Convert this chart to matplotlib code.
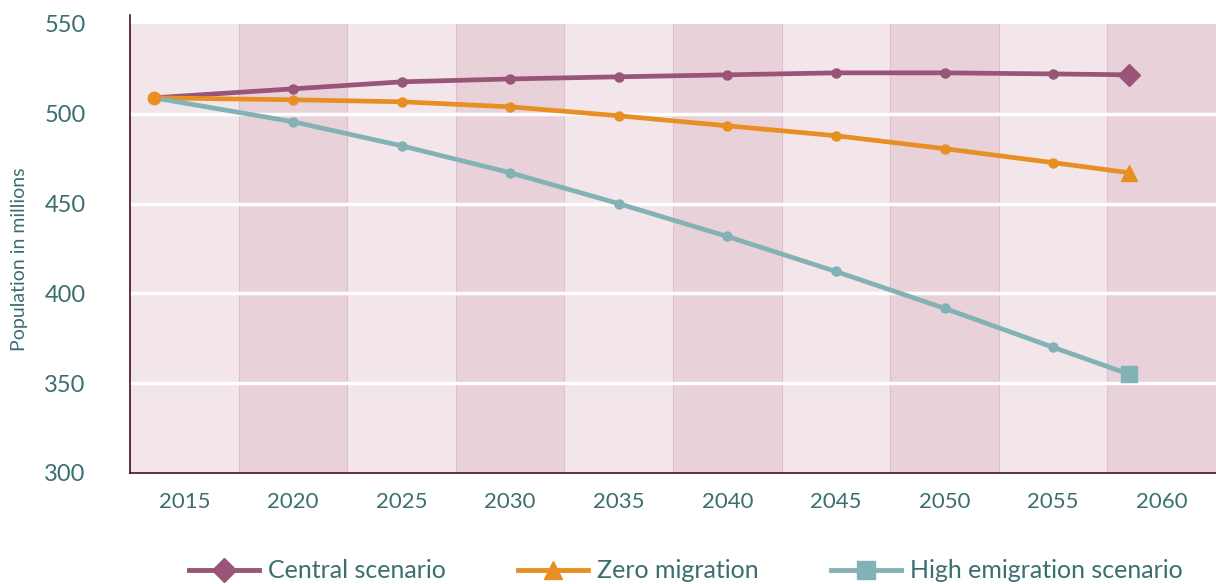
import matplotlib
matplotlib.use("Agg")
import matplotlib.pyplot as plt
from matplotlib.lines import Line2D

# Data
years = [2013.6, 2020, 2025, 2030, 2035, 2040, 2045, 2050, 2055, 2058.5]
central = [508.9, 513.9, 517.8, 519.4, 520.6, 521.7, 522.8, 522.8, 522.2, 521.7]
zero_migration = [508.9, 507.8, 506.7, 503.9, 498.9, 493.3, 487.8, 480.6, 472.8, 467.2]
high_emigration = [508.9, 495.6, 482.2, 467.2, 450.0, 431.7, 412.2, 391.7, 370.0, 355.0]
tick_years = [2015, 2020, 2025, 2030, 2035, 2040, 2045, 2050, 2055, 2060]
y_ticks = [300, 350, 400, 450, 500, 550]
series_names = ["Central scenario", "Zero migration", "High emigration scenario"]

c_central = "#985577"
c_zero = "#e88f24"
c_high = "#82b2b6"
txt = "#3b6e70"
band_light = "#f3e6eb"
band_dark = "#e9d1da"

plt.rcParams['font.family'] = ['Lato', 'DejaVu Sans']

fig = plt.figure(figsize=(12.16, 5.84), dpi=100)
ax = fig.add_axes([130/1216, (584-473)/584, 1 - 130/1216, (473-24)/584])

# alternating bands
for i, ty in enumerate(tick_years):
    ax.axvspan(ty - 2.5, ty + 2.5, color=band_light if i % 2 == 0 else band_dark,
               lw=0, zorder=0)
    ax.axvline(ty - 2.5, color="#dcbfcb", lw=0.8, zorder=0.5)

for yv in y_ticks[1:-1]:
    ax.axhline(yv, color="white", lw=2.5, zorder=1)

series = [(central, c_central, "D", 11), (zero_migration, c_zero, "^", 12),
          (high_emigration, c_high, "s", 12)]
for vals, col, mk, ms in series:
    ax.plot(years, vals, color=col, lw=3.4, zorder=3, solid_capstyle="round")
    ax.plot(years[1:-1], vals[1:-1], "o", color=col, ms=6.5, zorder=4)
    ax.plot(years[-1:], vals[-1:], mk, color=col, ms=ms, zorder=5)
ax.plot(years[:1], zero_migration[:1], "o", color=c_zero, ms=9, zorder=6)

ax.set_xlim(2012.5, 2062.5)
ax.set_ylim(300, 550)
ax.set_xticks(tick_years)
ax.set_yticks(y_ticks)
ax.tick_params(length=0, labelsize=16, colors=txt, pad=14)
ax.tick_params(axis="y", labelsize=17, pad=32)
for s in ["top", "right"]:
    ax.spines[s].set_visible(False)
for s in ["left", "bottom"]:
    ax.spines[s].set_color("#4a0f25")
    ax.spines[s].set_linewidth(1.2)
ax.spines["left"].set_bounds(300, 555)

fig.text(20/1216, 1 - 259/584, "Population in millions", rotation=90,
         ha="center", va="center", color=txt, fontsize=14)

handles = [Line2D([], [], color=c, lw=3.5, marker=m, ms=ms + 1)
           for _, c, m, ms in series]
leg = fig.legend(handles, series_names, loc="center", ncol=3,
                 bbox_to_anchor=(686/1216, 1 - 571/584), frameon=False,
                 handlelength=2.8, handletextpad=0.35, columnspacing=2.9,
                 prop={"size": 18})
for t in leg.get_texts():
    t.set_color(txt)

fig.savefig("out.png", dpi=100)
